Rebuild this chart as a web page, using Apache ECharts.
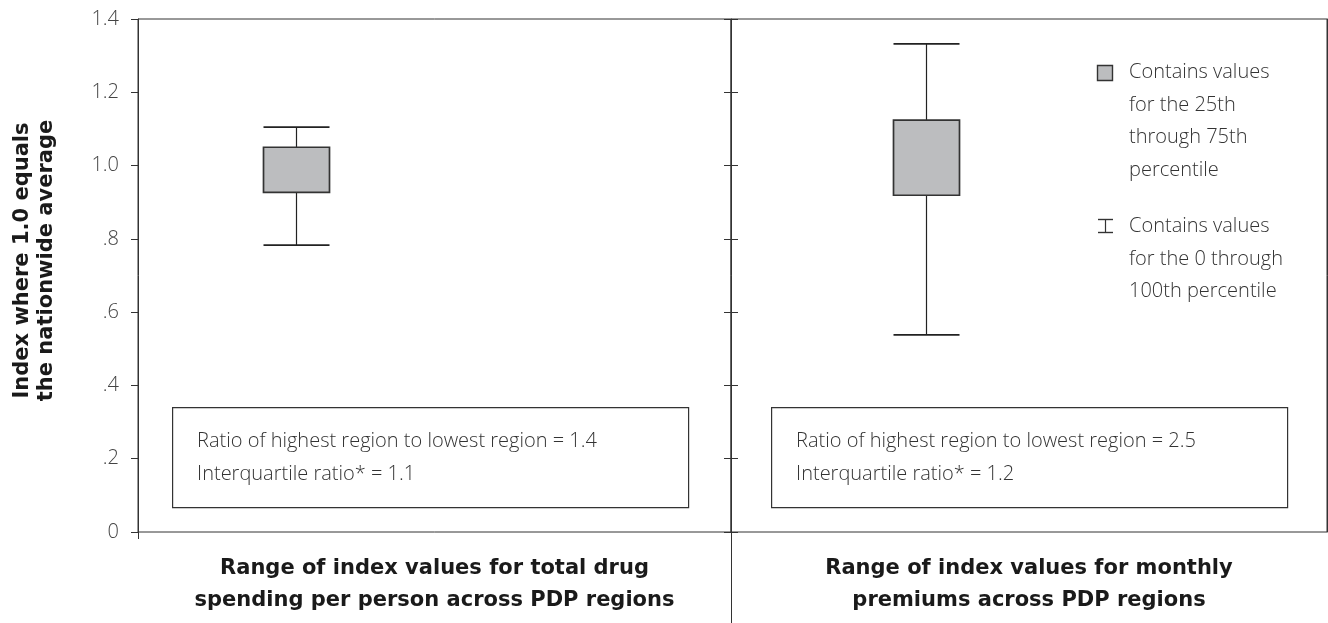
<!DOCTYPE html>
<html>
<head>
<meta charset="utf-8">
<script src="https://cdn.jsdelivr.net/npm/echarts@6/dist/echarts.min.js"></script>
<style>
html,body{margin:0;padding:0;background:#fff;}
#chart{width:1328px;height:623px;}
</style>
</head>
<body>
<div id="chart"></div>
<script>
// ---- data ----
const categories = [
  'Range of index values for total drug\nspending per person across PDP regions',
  'Range of index values for monthly\npremiums across PDP regions'
];
const boxPositions = [0.266, 0.327];   // where each box sits inside its panel (0–1)
const minValues = [0.783, 0.538];
const q1Values  = [0.927, 0.919];
const q3Values  = [1.050, 1.124];
const maxValues = [1.105, 1.332];
const rangeRatios = ['1.4', '2.5'];
const iqrRatios   = ['1.1', '1.2'];
const yTickValues = [0, 0.2, 0.4, 0.6, 0.8, 1.0, 1.2, 1.4];
const yTickLabels = ['0', '.2', '.4', '.6', '.8', '1.0', '1.2', '1.4'];
const yAxisTitle = 'Index where 1.0 equals\nthe nationwide average';
const legendLabels = [
  'Contains values\nfor the 25th\nthrough 75th\npercentile',
  'Contains values\nfor the 0 through\n100th percentile'
];

// ---- styles ----
const LIGHT = '"Open Sans", Lato, sans-serif';
const BOLD = '"DejaVu Sans", sans-serif';
const INK = '#222';
const BOX_FILL = '#bcbdbf';

function tickLabel(v) {
  const i = yTickValues.findIndex(t => Math.abs(t - v) < 1e-6);
  return i >= 0 ? yTickLabels[i] : '';
}

function renderBox(params, api) {
  const x = api.value(0);
  const pMax = api.coord([x, api.value(4)]);
  const pQ3 = api.coord([x, api.value(3)]);
  const pQ1 = api.coord([x, api.value(2)]);
  const pMin = api.coord([x, api.value(1)]);
  const cx = Math.round(pMax[0]) + 0.5;
  const hw = 33;
  const thin = { stroke: INK, lineWidth: 1.2 };
  const cap = { stroke: INK, lineWidth: 1.6 };
  return {
    type: 'group',
    children: [
      { type: 'line', shape: { x1: cx, y1: pMax[1], x2: cx, y2: pQ3[1] }, style: thin },
      { type: 'line', shape: { x1: cx, y1: pQ1[1], x2: cx, y2: pMin[1] }, style: thin },
      { type: 'line', shape: { x1: cx - hw, y1: pMax[1], x2: cx + hw, y2: pMax[1] }, style: cap },
      { type: 'line', shape: { x1: cx - hw, y1: pMin[1], x2: cx + hw, y2: pMin[1] }, style: cap },
      { type: 'rect', shape: { x: cx - hw, y: pQ3[1], width: 2 * hw, height: pQ1[1] - pQ3[1] },
        style: { fill: BOX_FILL, stroke: '#333', lineWidth: 1.7 } }
    ]
  };
}

const chart = echarts.init(document.getElementById('chart'), null, { renderer: 'canvas' });

const bottomLabel = {
  interval: 0,
  margin: 21,
  fontFamily: BOLD,
  fontWeight: 'bold',
  fontSize: 21,
  lineHeight: 32,
  color: '#1a1a1a'
};

const option = {
  animation: false,
  backgroundColor: '#fff',
  grid: [
    { left: 138, top: 19, width: 593, bottom: 91, show: true, borderColor: '#333', borderWidth: 1, backgroundColor: 'transparent' },
    { left: 731, top: 19, right: 1, bottom: 91, show: true, borderColor: '#333', borderWidth: 1, backgroundColor: 'transparent' }
  ],
  xAxis: [
    { gridIndex: 0, type: 'category', data: [categories[0]], position: 'bottom',
      axisLine: { show: false }, axisTick: { show: true, length: 7, lineStyle: { color: '#333' } },
      axisLabel: bottomLabel, splitLine: { show: false } },
    { gridIndex: 1, type: 'category', data: [categories[1]], position: 'bottom',
      axisLine: { show: false }, axisTick: { show: false },
      axisLabel: bottomLabel, splitLine: { show: false } },
    { gridIndex: 0, type: 'value', min: 0, max: 1, show: false },
    { gridIndex: 1, type: 'value', min: 0, max: 1, show: false }
  ],
  yAxis: [
    { gridIndex: 0, type: 'value', position: 'left', min: 0, max: 1.4, interval: 0.2,
      axisLine: { show: true, lineStyle: { color: '#333', width: 1 } },
      axisTick: { show: true, length: 7, lineStyle: { color: '#333' } },
      axisLabel: { formatter: tickLabel, fontFamily: LIGHT, fontWeight: 300, fontSize: 20, color: '#444', margin: 19 },
      splitLine: { show: false },
      name: yAxisTitle, nameLocation: 'middle', nameRotate: 90, nameGap: 79,
      nameTextStyle: { fontFamily: BOLD, fontWeight: 'bold', fontSize: 21, lineHeight: 24, color: '#1a1a1a',
                       align: 'center', padding: [0, 0, 0, 30] } },
    { gridIndex: 0, type: 'value', position: 'right', min: 0, max: 1.4, interval: 0.2,
      axisLine: { show: false }, axisTick: { show: true, length: 7, lineStyle: { color: '#333' } },
      axisLabel: { show: false }, splitLine: { show: false } },
    { gridIndex: 1, type: 'value', position: 'left', min: 0, max: 1.4, interval: 0.2,
      axisLine: { show: true, lineStyle: { color: '#333' } },
      axisTick: { show: true, length: 7, lineStyle: { color: '#333' } },
      axisLabel: { show: false }, splitLine: { show: false } },
    { gridIndex: 1, type: 'value', position: 'right', min: 0, max: 1.4, interval: 0.2,
      axisLine: { show: true, lineStyle: { color: '#333' } }, axisTick: { show: false },
      axisLabel: { show: false }, splitLine: { show: false } }
  ],
  series: [0, 1].map(i => ({
    type: 'custom',
    name: categories[i],
    xAxisIndex: 2 + i,
    yAxisIndex: i === 0 ? 0 : 2,
    encode: { x: 0, y: [1, 2, 3, 4] },
    data: [[boxPositions[i], minValues[i], q1Values[i], q3Values[i], maxValues[i]]],
    renderItem: renderBox,
    silent: true
  })),
  graphic: [
    // divider continues below the plot
    { type: 'line', shape: { x1: 731.5, y1: 532, x2: 731.5, y2: 623 }, style: { stroke: '#333', lineWidth: 1 }, silent: true },
    // annotation boxes
    ...[0, 1].map(i => ({
      type: 'group', left: i === 0 ? 172 : 771, top: 407, silent: true,
      children: [
        { type: 'rect', shape: { x: 0.5, y: 0.5, width: 516, height: 100 },
          style: { fill: '#fff', stroke: '#333', lineWidth: 1.2 } },
        { type: 'text', x: 25, y: 18,
          style: { text: 'Ratio of highest region to lowest region = ' + rangeRatios[i] + '\nInterquartile ratio* = ' + iqrRatios[i],
                   font: '300 20px ' + LIGHT, lineHeight: 33, fill: '#333', verticalAlign: 'top' } }
      ]
    })),
    // legend
    { type: 'rect', shape: { x: 1097.5, y: 65.5, width: 15, height: 15 },
      style: { fill: BOX_FILL, stroke: '#333', lineWidth: 1.4 }, silent: true },
    { type: 'text', x: 1129, y: 56.5,
      style: { text: legendLabels[0], font: '300 20px ' + LIGHT, lineHeight: 32.4, fill: '#333', verticalAlign: 'top' }, silent: true },
    { type: 'line', shape: { x1: 1105.5, y1: 219, x2: 1105.5, y2: 233 }, style: { stroke: '#333', lineWidth: 1.2 }, silent: true },
    { type: 'line', shape: { x1: 1098, y1: 219.5, x2: 1113, y2: 219.5 }, style: { stroke: '#333', lineWidth: 1.4 }, silent: true },
    { type: 'line', shape: { x1: 1098, y1: 232.5, x2: 1113, y2: 232.5 }, style: { stroke: '#333', lineWidth: 1.4 }, silent: true },
    { type: 'text', x: 1129, y: 210.5,
      style: { text: legendLabels[1], font: '300 20px ' + LIGHT, lineHeight: 32.4, fill: '#333', verticalAlign: 'top' }, silent: true }
  ]
};

chart.setOption(option);
</script>
</body>
</html>
